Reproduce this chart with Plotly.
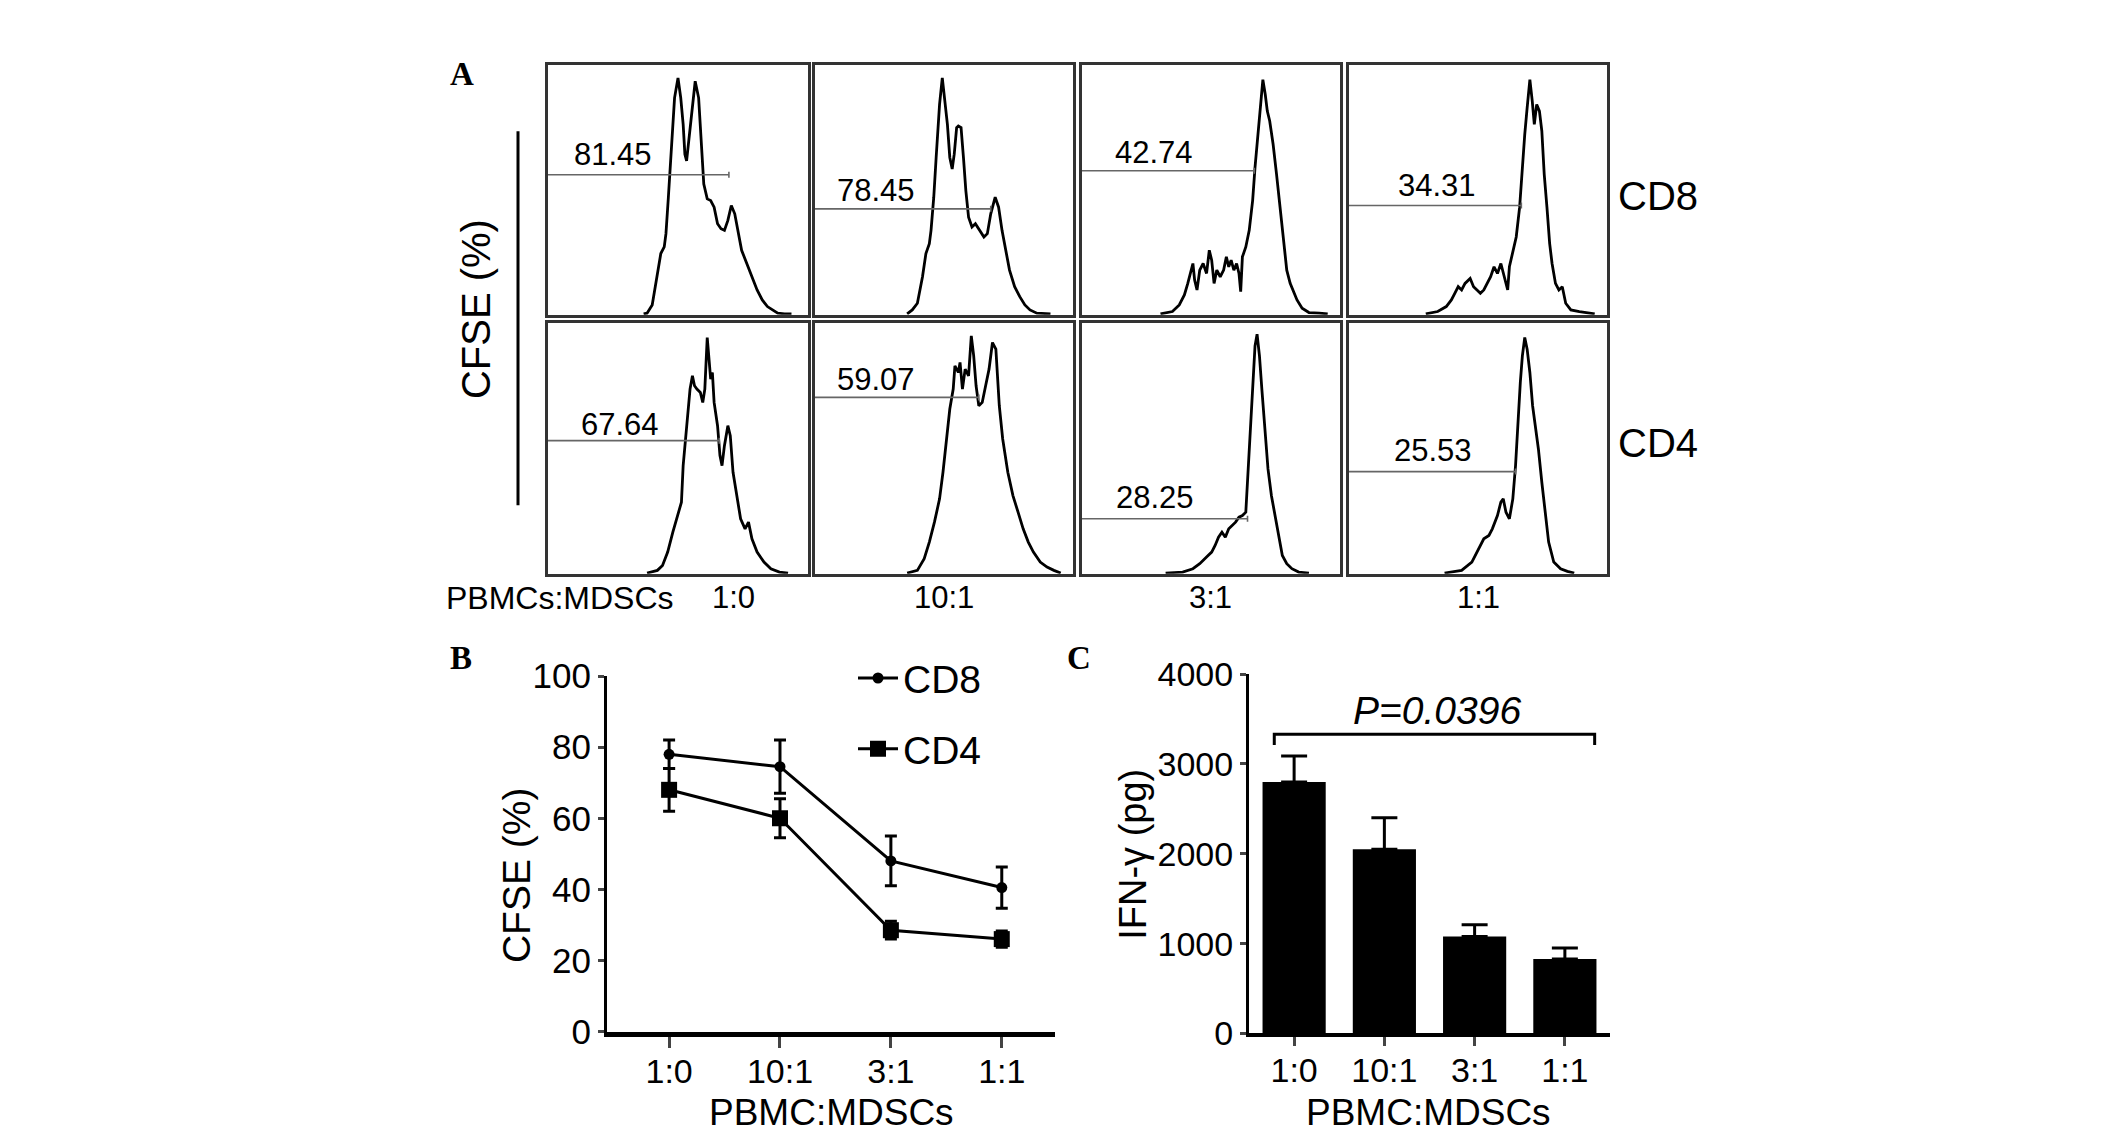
import plotly.graph_objects as go

W, H = 2126, 1142

# ---- data ----
ratios = ["1:0", "10:1", "3:1", "1:1"]
cd8_pct = ["81.45", "78.45", "42.74", "34.31"]
cd4_pct = ["67.64", "59.07", "28.25", "25.53"]

# CFSE histograms (channel, count)
cd8_10_x = [278, 288, 303, 318, 328, 338, 343, 350, 358, 368, 378, 386, 393, 398, 403, 408, 418, 428, 438, 446,
            453, 463, 473, 483, 493, 503, 513, 523, 533, 543, 553, 563, 578, 593, 608, 623, 638, 653, 668, 688, 708]
cd8_10_y = [3, 5, 30, 125, 185, 205, 245, 355, 475, 655, 715, 655, 575, 485, 465, 515, 625, 705, 655, 525,
            395, 350, 345, 325, 275, 260, 255, 285, 330, 305, 255, 195, 155, 115, 75, 45, 25, 15, 5, 3, 3]
cd8_101_x = [270, 285, 300, 315, 325, 335, 340, 348, 355, 365, 373, 380, 388, 395, 402, 408, 415, 420, 428, 435,
             442, 450, 460, 470, 480, 495, 505, 515, 528, 538, 548, 560, 570, 585, 600, 615, 630, 650, 670, 690]
cd8_101_y = [3, 15, 35, 115, 185, 215, 255, 355, 475, 635, 715, 655, 575, 475, 440, 485, 565, 570, 565, 475,
             375, 295, 265, 275, 260, 235, 245, 305, 355, 325, 255, 185, 135, 85, 55, 30, 15, 5, 3, 3]
cd8_31_x = [230, 265, 285, 300, 310, 320, 325, 330, 337, 345, 355, 365, 373, 380, 387, 395, 405, 415, 423, 430,
            437, 445, 453, 460, 465, 470, 480, 490, 500, 507, 515, 523, 530, 537, 543, 550, 560, 570, 580, 590,
            600, 610, 620, 630, 645, 665, 695, 720]
cd8_31_y = [3, 10, 30, 60, 95, 135, 155, 105, 75, 135, 155, 125, 195, 165, 95, 135, 115, 135, 175, 145,
            165, 135, 155, 125, 70, 175, 205, 255, 345, 445, 545, 645, 710, 665, 615, 585, 515, 425, 325, 215,
            135, 95, 70, 45, 20, 7, 5, 3]
cd8_11_x = [225, 260, 285, 300, 310, 320, 330, 340, 355, 365, 375, 385, 395, 405, 415, 425, 435, 445, 455, 465,
            470, 480, 490, 500, 508, 515, 522, 530, 537, 543, 550, 558, 565, 572, 580, 588, 595, 605, 615, 625,
            635, 650, 675, 700, 720]
cd8_11_y = [3, 10, 25, 45, 65, 85, 75, 95, 110, 85, 75, 65, 75, 95, 115, 145, 125, 155, 115, 75,
            145, 195, 235, 325, 455, 545, 625, 710, 645, 575, 635, 615, 555, 425, 325, 215, 155, 95, 75, 85,
            35, 15, 10, 7, 3]
cd4_10_x = [288, 318, 333, 348, 363, 378, 388, 393, 400, 406, 413, 420, 426, 433, 443, 450, 456, 463, 468, 473,
            478, 483, 493, 500, 506, 513, 523, 530, 538, 548, 560, 573, 583, 593, 608, 628, 648, 673, 698]
cd4_10_y = [2, 10, 25, 65, 125, 175, 215, 325, 405, 495, 555, 595, 565, 555, 545, 515, 555, 710, 655, 585,
            605, 515, 445, 355, 325, 385, 445, 415, 305, 235, 165, 135, 155, 105, 65, 35, 15, 5, 2]
cd4_101_x = [270, 300, 320, 335, 350, 365, 375, 385, 395, 405, 410, 420, 425, 432, 440, 450, 458, 465, 472, 480,
             490, 500, 510, 520, 530, 540, 550, 565, 580, 595, 610, 625, 640, 660, 680, 700, 720]
cd4_101_y = [2, 10, 45, 95, 155, 225, 305, 405, 495, 555, 625, 605, 635, 555, 615, 595, 715, 655, 565, 505,
             515, 565, 615, 695, 675, 505, 405, 305, 235, 185, 135, 95, 65, 35, 20, 10, 2]
cd4_31_x = [245, 295, 325, 345, 365, 380, 390, 400, 410, 420, 430, 440, 450, 460, 470, 480, 487, 493, 500, 507,
            513, 520, 527, 535, 545, 555, 565, 575, 587, 600, 615, 635, 665]
cd4_31_y = [2, 5, 15, 30, 50, 65, 85, 110, 125, 110, 135, 145, 155, 170, 175, 185, 305, 425, 555, 685,
            720, 655, 555, 435, 315, 235, 175, 115, 55, 30, 15, 5, 2]
cd4_11_x = [280, 330, 360, 380, 395, 410, 420, 435, 445, 452, 460, 470, 480, 488, 495, 502, 508, 515, 522, 530,
            538, 545, 555, 565, 575, 585, 600, 620, 640, 660]
cd4_11_y = [2, 10, 35, 75, 105, 115, 135, 175, 215, 225, 185, 165, 225, 325, 455, 575, 655, 710, 675, 605,
            505, 455, 375, 275, 175, 95, 35, 15, 7, 2]

# gates: level and right end
cd8_gate_lvl = [423, 320, 435, 330]
cd8_gate_end = [526, 515, 505, 505]
cd4_gate_lvl = [400, 530, 165, 307]
cd4_gate_end = [498, 480, 485, 488]

# panel B: CFSE (%)
cd8_mean = [78, 74.5, 48, 40.5]
cd8_err = [4, 7.5, 7, 5.8]
cd4_mean = [68, 60, 28.5, 26]
cd4_err = [6, 5.5, 2.5, 2.3]

# panel C: IFN-gamma (pg)
ifn_mean = [2800, 2050, 1080, 830]
ifn_err = [290, 350, 130, 120]

# ---- layout helpers ----
FONT = "Liberation Sans, Arial, sans-serif"
SERIF = "Liberation Serif, Times New Roman, serif"


def dx(a, b):
    return [a / W, b / W]


def dy(top, bottom):
    return [1 - bottom / H, 1 - top / H]


col_px = [(540, 800), (807, 1065), (1074, 1332), (1341, 1599)]
row_px = [(38, 297), (305, 565)]
hist_x = [cd8_10_x, cd8_101_x, cd8_31_x, cd8_11_x, cd4_10_x, cd4_101_x, cd4_31_x, cd4_11_x]
hist_y = [cd8_10_y, cd8_101_y, cd8_31_y, cd8_11_y, cd4_10_y, cd4_101_y, cd4_31_y, cd4_11_y]
pcts = cd8_pct + cd4_pct
gate_lvl = cd8_gate_lvl + cd4_gate_lvl
gate_end = cd8_gate_end + cd4_gate_end
label_xy = [(188, 485), (180, 375), (210, 490), (258, 390),
            (208, 450), (180, 585), (215, 230), (245, 370)]

fig = go.Figure()
layout = dict(width=W, height=H, margin=dict(l=0, r=0, t=0, b=0),
              plot_bgcolor="white", paper_bgcolor="white",
              font=dict(family=FONT, color="black"))
annotations = []

for i in range(8):
    r, c = divmod(i, 4)
    n = i + 1
    xa, ya = f"x{n}", f"y{n}"
    layout[f"xaxis{n}"] = dict(domain=dx(*col_px[c]), anchor=ya, range=[0, 756],
                               showline=True, mirror=True, linecolor="#333", linewidth=2.5,
                               showgrid=False, zeroline=False, showticklabels=False, ticks="")
    layout[f"yaxis{n}"] = dict(domain=dy(*row_px[r]), anchor=xa, range=[0, 755],
                               showline=True, mirror=True, linecolor="#333", linewidth=2.5,
                               showgrid=False, zeroline=False, showticklabels=False, ticks="")
    fig.add_trace(go.Scatter(x=hist_x[i], y=hist_y[i], xaxis=xa, yaxis=ya, mode="lines",
                             line=dict(color="black", width=2.8), showlegend=False))
    g, e = gate_lvl[i], gate_end[i]
    fig.add_trace(go.Scatter(x=[0, e, None, e, e], y=[g, g, None, g - 9, g + 9], xaxis=xa, yaxis=ya,
                             mode="lines", line=dict(color="#666", width=1.6), showlegend=False))
    lx, ly = label_xy[i]
    annotations.append(dict(x=lx, y=ly, xref=xa, yref=ya, text=pcts[i], font=dict(size=31)))

# panel A labels
annotations += [
    dict(x=454 / W, y=1 - 48 / H, text="<b>A</b>", font=dict(family=SERIF, size=33)),
    dict(x=468 / W, y=1 - 291 / H, text="CFSE (%)", textangle=-90, font=dict(size=40)),
    dict(x=1650 / W, y=1 - 174 / H, text="CD8", font=dict(size=40)),
    dict(x=1650 / W, y=1 - 430 / H, text="CD4", font=dict(size=40)),
    dict(x=552 / W, y=1 - 590 / H, text="PBMCs:MDSCs", font=dict(size=32)),
]
for c, lab in zip([725, 936, 1202, 1470], ratios):
    annotations.append(dict(x=c / W, y=1 - 590 / H, text=lab, font=dict(size=31)))

shapes = [dict(type="line", xref="paper", yref="paper", x0=510 / W, x1=510 / W,
               y0=1 - 107 / H, y1=1 - 494 / H, line=dict(color="black", width=3))]

# ---- panel B ----
pos = list(range(len(ratios)))
layout["xaxis9"] = dict(domain=dx(599, 1047), anchor="y9", range=[-0.56, 3.48],
                        tickvals=pos, ticktext=ratios, ticks="outside", ticklen=11, tickwidth=3,
                        ticklabelstandoff=-5,
                        showline=True, linecolor="black", linewidth=5, showgrid=False, zeroline=False,
                        tickfont=dict(size=34))
layout["yaxis9"] = dict(domain=dy(671, 1039), anchor="x9", range=[0, 100], tickvals=[0, 20, 40, 60, 80, 100],
                        ticks="outside", ticklen=6, tickwidth=3, showline=True, linecolor="black",
                        linewidth=3, showgrid=False, zeroline=False, tickfont=dict(size=35))
fig.add_trace(go.Scatter(x=pos, y=cd8_mean, xaxis="x9", yaxis="y9", name="CD8", legendgroup="a",
                         mode="lines+markers", line=dict(color="black", width=3),
                         marker=dict(symbol="circle", size=11, color="black"),
                         error_y=dict(type="data", array=cd8_err, color="black", thickness=3, width=6)))
fig.add_trace(go.Scatter(x=pos, y=cd4_mean, xaxis="x9", yaxis="y9", name="CD4", legendgroup="b",
                         mode="lines+markers", line=dict(color="black", width=3),
                         marker=dict(symbol="square", size=16, color="black"),
                         error_y=dict(type="data", array=cd4_err, color="black", thickness=3, width=6)))
annotations += [
    dict(x=453 / W, y=1 - 652 / H, text="<b>B</b>", font=dict(family=SERIF, size=33)),
    dict(x=508 / W, y=1 - 877 / H, text="CFSE (%)", textangle=-90, font=dict(size=39)),
    dict(x=823 / W, y=1 - 1123 / H, text="PBMC:MDSCs", font=dict(size=37)),
]

# ---- panel C ----
layout["xaxis10"] = dict(domain=dx(1241, 1602), anchor="y10", range=[-0.5, 3.5],
                         tickvals=pos, ticktext=ratios, ticks="outside", ticklen=9, tickwidth=3,
                         ticklabelstandoff=-5,
                         showline=True, linecolor="black", linewidth=3.5, showgrid=False, zeroline=False,
                         tickfont=dict(size=34))
layout["yaxis10"] = dict(domain=dy(669, 1041), anchor="x10", range=[0, 4000],
                         tickvals=[0, 1000, 2000, 3000, 4000], ticks="outside", ticklen=6, tickwidth=3,
                         showline=True, linecolor="black", linewidth=3, showgrid=False, zeroline=False,
                         tickfont=dict(size=34))
fig.add_trace(go.Bar(x=pos, y=ifn_mean, xaxis="x10", yaxis="y10", width=0.7, showlegend=False,
                     marker=dict(color="black", line=dict(width=0)),
                     error_y=dict(type="data", symmetric=False, array=ifn_err, arrayminus=[0] * 4,
                                  color="black", thickness=3, width=13)))
shapes.append(dict(type="path", xref="x10", yref="y10",
                   path="M -0.22,3210 L -0.22,3330 L 3.33,3330 L 3.33,3210",
                   line=dict(color="black", width=3)))
annotations += [
    dict(x=1071 / W, y=1 - 652 / H, text="<b>C</b>", font=dict(family=SERIF, size=33)),
    dict(x=1.58, y=3600, xref="x10", yref="y10", text="<i>P=0.0396</i>", font=dict(size=39)),
    dict(x=1125 / W, y=1 - 856 / H, text="IFN-γ (pg)", textangle=-90, font=dict(size=38)),
    dict(x=1420 / W, y=1 - 1123 / H, text="PBMC:MDSCs", font=dict(size=37)),
]

for a in annotations:
    a.setdefault("xref", "paper")
    a.setdefault("yref", "paper")
    a.setdefault("showarrow", False)
    a.setdefault("xanchor", "center")
    a.setdefault("yanchor", "middle")

layout["annotations"] = annotations
layout["shapes"] = shapes
layout["legend"] = dict(x=845 / W, y=1 - 640 / H, xanchor="left", yanchor="top",
                        font=dict(size=39), bgcolor="rgba(0,0,0,0)", itemwidth=40,
                        tracegroupgap=17)
fig.update_layout(**layout)

fig.write_html("out.html")
